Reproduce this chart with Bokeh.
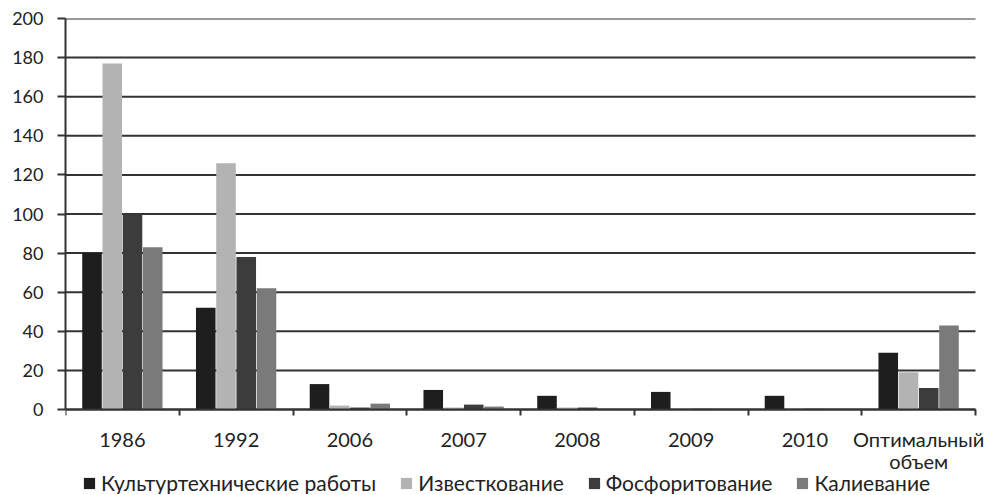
from bokeh.plotting import figure
from bokeh.models import FixedTicker, Legend, LegendItem, ColumnDataSource, Range1d
from bokeh.embed import file_html
from bokeh.resources import INLINE

categories = ["1986", "1992", "2006", "2007", "2008", "2009", "2010", "Оптимальный\nобъем"]
kultur = [80, 52, 13, 10, 7, 9, 7, 29]
izvest = [177, 126, 2, 1, 1, 0.5, 0.5, 19]
fosfor = [100, 78, 1, 2.5, 1, 0.3, 0.3, 11]
kaliy = [83, 62, 3, 1.5, 0.3, 0.3, 0.3, 43]
series_names = ["Культуртехнические работы", "Известкование", "Фосфоритование", "Калиевание"]
y_ticks = [0, 20, 40, 60, 80, 100, 120, 140, 160, 180, 200]

colors = ["#1e1e1e", "#b3b3b3", "#3c3c3c", "#7a7a7a"]
FONT = "Lato"

# frame covers the plot area plus the label/legend strip below the zero line
PLOT_H = 391          # pixel height of the 0..200 value band
FRAME_H = 476         # frame height incl. strip under the x axis
PLOT_W = 910          # pixel width of the category band
FRAME_W = 921         # frame width incl. room for the last label
Y_MAX = 200
N = len(categories)
y_low = -Y_MAX * (FRAME_H - PLOT_H) / PLOT_H
x_high = N * FRAME_W / PLOT_W

p = figure(frame_width=FRAME_W, frame_height=FRAME_H, output_backend="svg", toolbar_location=None,
           x_range=Range1d(0, x_high), y_range=Range1d(y_low, Y_MAX),
           min_border_left=65, min_border_top=18, min_border_right=0, min_border_bottom=0)
p.outline_line_color = None
p.background_fill_color = "white"
p.border_fill_color = "white"

# horizontal grid lines spanning the category band only
p.segment(x0=[0] * len(y_ticks), x1=[N] * len(y_ticks), y0=y_ticks, y1=y_ticks,
          line_color="#333333", line_width=2)

centers = [i + 0.5 for i in range(N)]
bar_w = 0.172
step = 0.178
offsets = [-1.5 * step, -0.5 * step, 0.5 * step, 1.5 * step]
renderers = []
for vals, off, col in zip([kultur, izvest, fosfor, kaliy], offsets, colors):
    src = ColumnDataSource(dict(x=[c + off for c in centers], top=vals))
    r = p.vbar(x="x", top="top", bottom=0, width=bar_w, source=src,
               fill_color=col, line_color=None)
    renderers.append(r)

# y axis
p.yaxis.ticker = FixedTicker(ticks=y_ticks)
p.yaxis.bounds = (0, Y_MAX)
p.yaxis.major_tick_out = 8
p.yaxis.major_tick_in = 0
p.yaxis.minor_tick_line_color = None
p.yaxis.major_tick_line_width = 2
p.yaxis.major_tick_line_color = "#333333"
p.yaxis.axis_line_width = 2
p.yaxis.axis_line_color = "#333333"
p.yaxis.major_label_standoff = 14
p.yaxis.major_label_text_font = FONT
p.yaxis.major_label_text_font_size = "18px"
p.yaxis.major_label_text_color = "#222222"

# x axis, drawn at value 0
p.xaxis.fixed_location = 0
p.xaxis.bounds = (0, N)
p.xaxis.ticker = FixedTicker(ticks=centers, minor_ticks=list(range(N + 1)))
p.xaxis.major_label_overrides = {c: lab for c, lab in zip(centers, categories)}
p.xaxis.major_tick_line_color = None
p.xaxis.minor_tick_out = 6
p.xaxis.minor_tick_in = 0
p.xaxis.minor_tick_line_width = 2
p.xaxis.minor_tick_line_color = "#333333"
p.xaxis.axis_line_width = 2
p.xaxis.axis_line_color = "#333333"
p.xaxis.major_label_standoff = 11
p.xaxis.major_label_text_font = FONT
p.xaxis.major_label_text_font_size = "20px"
p.xaxis.major_label_text_color = "#222222"
p.xaxis.major_label_text_line_height = 0.95

p.xgrid.grid_line_color = None
p.ygrid.grid_line_color = None

legend = Legend(items=[LegendItem(label=n, renderers=[r]) for n, r in zip(series_names, renderers)],
                orientation="horizontal", location=(17, -1))
legend.label_text_font = FONT
legend.label_text_font_size = "21px"
legend.label_text_color = "#222222"
legend.glyph_width = 14
legend.glyph_height = 14
legend.label_standoff = 5
legend.spacing = 23
legend.padding = 0
legend.margin = 0
legend.border_line_color = None
legend.background_fill_alpha = 0
p.add_layout(legend)

open("out.html", "w").write(file_html(p, INLINE))
